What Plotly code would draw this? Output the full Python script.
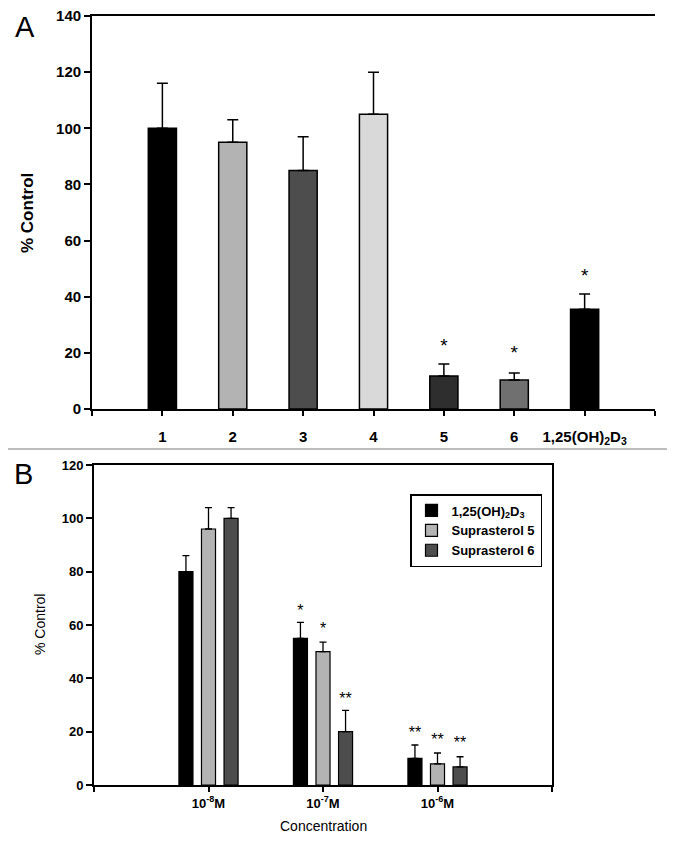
import plotly.graph_objects as go

# ---------------- Data: panel A ----------------
a_labels = ["1", "2", "3", "4", "5", "6", "1,25(OH)<sub>2</sub>D<sub>3</sub>"]
a_values = [100, 95, 85, 105, 11.8, 10.3, 35.5]
a_errors = [16, 8, 12, 15, 4.2, 2.5, 5.5]
a_colors = ["#000000", "#b3b3b3", "#4d4d4d", "#d9d9d9", "#2e2e2e", "#707070", "#000000"]
a_star_text = ["", "", "", "", "*", "*", "*"]
a_star_y = [None, None, None, None, 22, 19.5, 47]

# ---------------- Data: panel B ----------------
b_categories = ["10<sup>-8</sup>M", "10<sup>-7</sup>M", "10<sup>-6</sup>M"]
b_series = ["1,25(OH)<sub>2</sub>D<sub>3</sub>", "Suprasterol 5", "Suprasterol 6"]
b_values = {
    "1,25(OH)<sub>2</sub>D<sub>3</sub>": [80, 55, 10],
    "Suprasterol 5": [96, 50, 7.9],
    "Suprasterol 6": [100, 20, 6.8],
}
b_errors = {
    "1,25(OH)<sub>2</sub>D<sub>3</sub>": [6, 6, 5],
    "Suprasterol 5": [8, 3.6, 4.1],
    "Suprasterol 6": [4, 8, 3.8],
}
b_stars = {
    "1,25(OH)<sub>2</sub>D<sub>3</sub>": ["", "*", "**"],
    "Suprasterol 5": ["", "*", "**"],
    "Suprasterol 6": ["", "**", "**"],
}
b_star_y = {
    "1,25(OH)<sub>2</sub>D<sub>3</sub>": [None, 65, 19],
    "Suprasterol 5": [None, 58, 16.5],
    "Suprasterol 6": [None, 32, 15.5],
}
b_colors = ["#000000", "#b3b3b3", "#4d4d4d"]

FONT = "Liberation Sans, Arial, sans-serif"
# page body has an 8px margin: figure is drawn at (8, 8)
OFF = 8
W, H = 675 - OFF, 844 - OFF


def px(x):
    return (x - OFF) / W


def py(y):
    return (H - (y - OFF)) / H


fig = go.Figure()

# ---- Panel A bars ----
a_x = list(range(1, len(a_labels) + 1))
fig.add_trace(go.Bar(
    x=a_x, y=a_values, width=0.4,
    marker=dict(color=a_colors, line=dict(color="#000", width=1.5)),
    error_y=dict(type="data", array=a_errors, arrayminus=[0] * len(a_errors),
                 symmetric=False, color="#000", thickness=1.5, width=5.5),
    showlegend=False, xaxis="x", yaxis="y",
))
fig.add_trace(go.Scatter(
    x=a_x, y=a_star_y, text=a_star_text, mode="text",
    textfont=dict(family=FONT, size=19, color="#000"),
    textposition="middle center",
    showlegend=False, xaxis="x", yaxis="y", hoverinfo="skip",
))

# ---- Panel B bars ----
b_x = [1, 2, 3]
slot = 0.197
for i, s in enumerate(b_series):
    fig.add_trace(go.Bar(
        x=b_x, y=b_values[s], name="<b>%s</b>" % s,
        marker=dict(color=b_colors[i], line=dict(color="#000", width=1.2)),
        error_y=dict(type="data", array=b_errors[s], arrayminus=[0, 0, 0],
                     symmetric=False, color="#000", thickness=1.3, width=3.5),
        xaxis="x2", yaxis="y2",
    ))
for i, s in enumerate(b_series):
    off = (i - 1) * slot
    fig.add_trace(go.Scatter(
        x=[v + off for v in b_x], y=b_star_y[s], text=b_stars[s], mode="text",
        textfont=dict(family=FONT, size=16, color="#000"),
        showlegend=False, xaxis="x2", yaxis="y2", hoverinfo="skip",
    ))

axis_line = dict(showline=True, linecolor="#000", linewidth=1.8, showgrid=False,
                 zeroline=False, ticks="outside", tickcolor="#000", tickwidth=1.5,
                 automargin=False, ticklabeloverflow="allow")

fig.update_layout(
    width=W, height=H,
    margin=dict(l=0, r=0, t=0, b=0, autoexpand=False),
    paper_bgcolor="white", plot_bgcolor="white",
    font=dict(family=FONT, color="#000"),
    barmode="group", bargap=0.409, bargroupgap=0.378,
    xaxis=dict(domain=[px(92), px(655)], anchor="y", range=[0, 8],
               tickvals=list(range(0, 9)),
               ticktext=[""] + ["<b>%s</b>" % t for t in a_labels] + [""],
               tickfont=dict(size=15), ticklen=5, ticklabelstandoff=8,
               mirror=True, **axis_line),
    yaxis=dict(domain=[py(409), py(16)], anchor="x", range=[0, 140],
               tickvals=list(range(0, 141, 20)),
               ticktext=["<b>%d</b>" % v for v in range(0, 141, 20)],
               tickfont=dict(size=15), ticklen=6, **axis_line),
    xaxis2=dict(domain=[px(94), px(552)], anchor="y2", range=[0, 4],
                tickvals=[0, 1, 2, 3, 4],
                ticktext=[""] + ["<b>%s</b>" % t for t in b_categories] + [""],
                tickfont=dict(size=13), ticklen=5, mirror=True, **axis_line),
    yaxis2=dict(domain=[py(785), py(465)], anchor="x2", range=[0, 120],
                tickvals=list(range(0, 121, 20)),
                ticktext=["<b>%d</b>" % v for v in range(0, 121, 20)],
                tickfont=dict(size=13), ticklen=6, mirror=True, **axis_line),
    legend=dict(x=px(410), y=py(494), xanchor="left", yanchor="top",
                bordercolor="#000", borderwidth=1.5, bgcolor="white",
                font=dict(family=FONT, size=13, color="#000"),
                tracegroupgap=0, itemwidth=30),
    showlegend=True,
)

ann = dict(xref="paper", yref="paper", showarrow=False, xanchor="center", yanchor="middle")
fig.add_annotation(text="<b>% Control</b>", x=px(28), y=py(213), textangle=-90,
                   font=dict(size=17), **ann)
fig.add_annotation(text="% Control", x=px(40), y=py(625), textangle=-90,
                   font=dict(size=14), **ann)
fig.add_annotation(text="Concentration", x=px(323), y=py(826),
                   font=dict(size=14), **ann)
fig.add_annotation(text="A", x=px(25), y=py(9), xref="paper", yref="paper",
                   showarrow=False, xanchor="center", yanchor="top", font=dict(size=29))
fig.add_annotation(text="B", x=px(23), y=py(474), font=dict(size=29), **ann)
fig.add_shape(type="line", xref="paper", yref="paper", x0=0, x1=1,
              y0=py(449), y1=py(449), line=dict(color="#bdbdbd", width=2))

fig.write_html("out.html")
